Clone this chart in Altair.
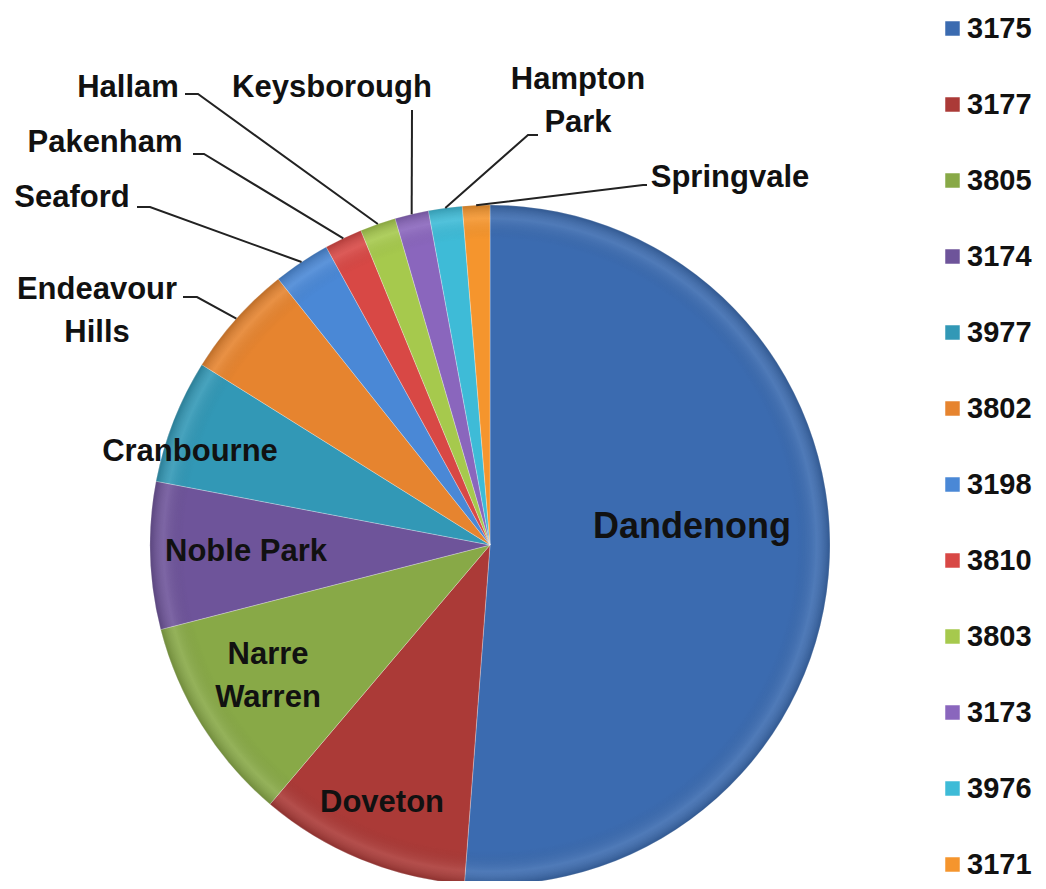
import math
import altair as alt
import pandas as pd

# ---- data ----
suburbs = ["Dandenong", "Doveton", "Narre Warren", "Noble Park", "Cranbourne",
           "Endeavour Hills", "Seaford", "Pakenham", "Hallam", "Keysborough",
           "Hampton Park", "Springvale"]
codes = ["3175", "3177", "3805", "3174", "3977", "3802",
         "3198", "3810", "3803", "3173", "3976", "3171"]
values = [51.2, 10.0, 9.8, 7.0, 5.9, 5.4, 2.7, 1.8, 1.7, 1.6, 1.6, 1.3]
colors = ["#3b6bb0", "#ab3a37", "#88a947", "#6e549a", "#3298b6", "#e6842f",
          "#4a88d6", "#d84845", "#a6c94d", "#8a66bd", "#3ebbd7", "#f5952d"]
label_text = ["Dandenong", "Doveton", "Narre\nWarren", "Noble Park", "Cranbourne",
              "Endeavour\nHills", "Seaford", "Pakenham", "Hallam", "Keysborough",
              "Hampton\nPark", "Springvale"]

# ---- layout (pixels, relative to pie centre; first text line) ----
CX, CY, R = 482, 537, 340
text_off = [(202, -18), (-108, 258), (-222, 110), (-244, 7), (-300, -93),
            (-393, -255), (-418, -347), (-385, -402), (-362, -457), (-158, -457),
            (88, -465), (240, -367)]
line_end = [None, None, None, None, None,
            (-307, -248), (-353, -338), (-297, -391), (-305, -451), (-78, -435),
            (48, -410), (157, -360)]
elbow_dx = [0, 0, 0, 0, 0, 14, 13, 11, 13, 0, -10, -4]

total = sum(values)
df = pd.DataFrame({"suburb": suburbs, "code": codes, "value": values,
                   "idx": list(range(len(values)))})

# labels and leader lines
lab_rows, line_rows = [], []
cum = 0.0
for i, v in enumerate(values):
    mid = (cum + v / 2) / total * 2 * math.pi
    cum += v
    tx, ty = text_off[i]
    lab_rows.append({"t": label_text[i], "x": CX + tx, "y": CY + ty, "big": i == 0})
    if line_end[i] is not None:
        rx = CX + R * math.sin(mid)
        ry = CY - R * math.cos(mid)
        ex, ey = line_end[i]
        pts = [(rx, ry), (CX + ex + elbow_dx[i], CY + ey), (CX + ex, CY + ey)]
        for k, (px, py) in enumerate(pts):
            line_rows.append({"s": suburbs[i], "k": k, "x": px, "y": py})
labs = pd.DataFrame(lab_rows)
lines = pd.DataFrame(line_rows)

FONT = "Liberation Sans"

pie = alt.Chart(df).mark_arc(outerRadius=R, stroke="#ffffff", strokeWidth=0.8,
                             strokeOpacity=0.35).encode(
    theta=alt.Theta("value:Q", stack=True),
    order=alt.Order("idx:Q"),
    color=alt.Color("code:N",
                    scale=alt.Scale(domain=codes, range=colors),
                    sort=codes,
                    legend=alt.Legend(title=None, orient="none", legendX=930, legendY=6,
                                      symbolType="square", symbolSize=210,
                                      symbolStrokeWidth=0,
                                      labelFont=FONT, labelFontSize=29,
                                      labelFontWeight="bold", labelColor="#111111",
                                      rowPadding=46, labelOffset=0, labelLimit=200)),
    x=alt.value(CX), y=alt.value(CY),
)

shade = alt.Chart(df.head(1)).mark_arc(
    outerRadius=R, theta=0, theta2=2 * math.pi,
    fill=alt.Gradient(gradient="radial", x1=0.5, y1=0.5, x2=0.5, y2=0.5, r1=0, r2=0.5,
                      stops=[alt.GradientStop(color="rgba(255,255,255,0)", offset=0),
                             alt.GradientStop(color="rgba(0,0,0,0.0)", offset=0.9),
                             alt.GradientStop(color="rgba(255,255,255,0.10)", offset=0.96),
                             alt.GradientStop(color="rgba(0,0,0,0.18)", offset=1)]),
).encode(x=alt.value(CX), y=alt.value(CY))

leader = alt.Chart(lines).mark_line(color="#222222", strokeWidth=2).encode(
    x=alt.X("x:Q", scale=None), y=alt.Y("y:Q", scale=None),
    detail="s:N", order="k:Q")

text_small = alt.Chart(labs[~labs["big"]]).mark_text(
    font=FONT, fontSize=31, fontWeight="bold", color="#111111",
    align="center", baseline="middle", lineHeight=43, lineBreak="\n").encode(
    x=alt.X("x:Q", scale=None), y=alt.Y("y:Q", scale=None), text="t:N")

text_big = alt.Chart(labs[labs["big"]]).mark_text(
    font=FONT, fontSize=36, fontWeight="bold", color="#111111",
    align="center", baseline="middle").encode(
    x=alt.X("x:Q", scale=None), y=alt.Y("y:Q", scale=None), text="t:N")

chart = alt.layer(pie, shade, leader, text_small, text_big).properties(
    width=1030, height=873, autosize=alt.AutoSizeParams(type="none"), padding=0,
    background="#ffffff"
).configure_view(stroke=None)

chart.save("out.html", embed_options={"renderer": "svg", "actions": False})
